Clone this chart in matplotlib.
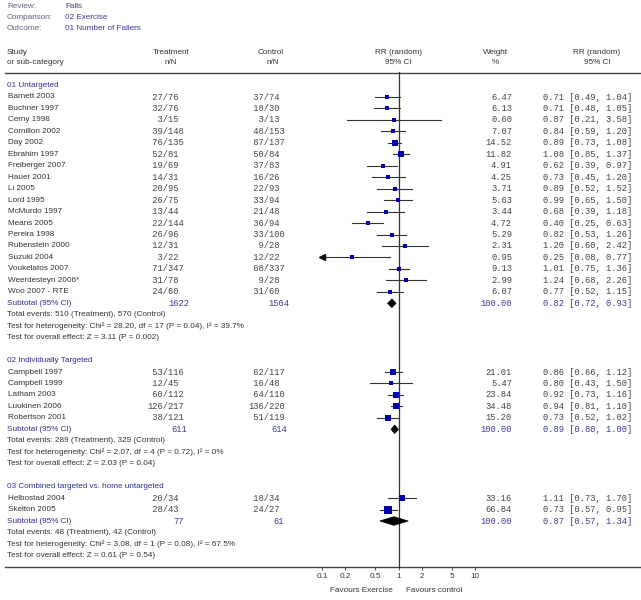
import matplotlib
matplotlib.use("Agg")
import matplotlib.pyplot as plt
from matplotlib.patches import Polygon

# ---------------- data ----------------
meta_labels = ["Review:", "Comparison:", "Outcome:"]
meta_values = ["Falls", "02 Exercise", "01 Number of Fallers"]

group_names = ["01 Untargeted", "02 Individually Targeted",
               "03 Combined targeted vs. home untargeted"]

g1_studies = ["Barnett 2003", "Buchner 1997", "Cerny 1998", "Cornillon 2002", "Day 2002",
              "Ebrahim 1997", "Freiberger 2007", "Hauer 2001", "Li 2005", "Lord 1995",
              "McMurdo 1997", "Means 2005", "Pereira 1998", "Rubenstein 2000", "Suzuki 2004",
              "Voukelatos 2007", "Weerdesteyn 2006*", "Woo 2007 - RTE"]
g1_t_ev = [27, 32, 3, 39, 76, 52, 19, 14, 20, 26, 13, 22, 26, 12, 3, 71, 31, 24]
g1_t_n = [76, 76, 15, 148, 135, 81, 69, 31, 95, 75, 44, 144, 96, 31, 22, 347, 78, 60]
g1_c_ev = [37, 18, 3, 48, 87, 50, 37, 16, 22, 33, 21, 36, 33, 9, 12, 68, 9, 31]
g1_c_n = [74, 30, 13, 153, 137, 84, 83, 26, 93, 94, 48, 94, 100, 28, 22, 337, 28, 60]
g1_weight = [6.47, 6.13, 0.60, 7.07, 14.52, 11.82, 4.91, 4.25, 3.71, 5.63, 3.44, 4.72,
             5.29, 2.31, 0.95, 9.13, 2.99, 6.07]
g1_rr = [0.71, 0.71, 0.87, 0.84, 0.89, 1.08, 0.62, 0.73, 0.89, 0.99, 0.68, 0.40, 0.82,
         1.20, 0.25, 1.01, 1.24, 0.77]
g1_lo = [0.49, 0.48, 0.21, 0.59, 0.73, 0.85, 0.39, 0.45, 0.52, 0.65, 0.39, 0.25, 0.53,
         0.60, 0.08, 0.75, 0.68, 0.52]
g1_hi = [1.04, 1.05, 3.58, 1.20, 1.08, 1.37, 0.97, 1.20, 1.52, 1.50, 1.18, 0.63, 1.26,
         2.42, 0.77, 1.36, 2.26, 1.15]

g2_studies = ["Campbell 1997", "Campbell 1999", "Latham 2003", "Luukinen 2006", "Robertson 2001"]
g2_t_ev = [53, 12, 60, 126, 38]
g2_t_n = [116, 45, 112, 217, 121]
g2_c_ev = [62, 16, 64, 136, 51]
g2_c_n = [117, 48, 110, 220, 119]
g2_weight = [21.01, 5.47, 23.84, 34.48, 15.20]
g2_rr = [0.86, 0.80, 0.92, 0.94, 0.73]
g2_lo = [0.66, 0.43, 0.73, 0.81, 0.52]
g2_hi = [1.12, 1.50, 1.16, 1.10, 1.02]

g3_studies = ["Helbostad 2004", "Skelton 2005"]
g3_t_ev = [20, 28]
g3_t_n = [34, 43]
g3_c_ev = [18, 24]
g3_c_n = [34, 27]
g3_weight = [33.16, 66.84]
g3_rr = [1.11, 0.73]
g3_lo = [0.73, 0.57]
g3_hi = [1.70, 0.95]

sub_t_total = [1622, 611, 77]
sub_c_total = [1504, 614, 61]
sub_rr = [0.82, 0.89, 0.87]
sub_lo = [0.72, 0.80, 0.57]
sub_hi = [0.93, 1.00, 1.34]

sub_stats = [
    ["Total events: 510 (Treatment), 570 (Control)",
     "Test for heterogeneity: Chi² = 28.20, df = 17 (P = 0.04), I² = 39.7%",
     "Test for overall effect: Z = 3.11 (P = 0.002)"],
    ["Total events: 289 (Treatment), 329 (Control)",
     "Test for heterogeneity: Chi² = 2.07, df = 4 (P = 0.72), I² = 0%",
     "Test for overall effect: Z = 2.03 (P = 0.04)"],
    ["Total events: 48 (Treatment), 42 (Control)",
     "Test for heterogeneity: Chi² = 3.08, df = 1 (P = 0.08), I² = 67.5%",
     "Test for overall effect: Z = 0.61 (P = 0.54)"],
]

tick_vals = [0.1, 0.2, 0.5, 1, 2, 5, 10]
tick_labels = ["0.1", "0.2", "0.5", "1", "2", "5", "10"]
favours = ["Favours Exercise", "Favours control"]

groups = [
    (g1_studies, g1_t_ev, g1_t_n, g1_c_ev, g1_c_n, g1_weight, g1_rr, g1_lo, g1_hi),
    (g2_studies, g2_t_ev, g2_t_n, g2_c_ev, g2_c_n, g2_weight, g2_rr, g2_lo, g2_hi),
    (g3_studies, g3_t_ev, g3_t_n, g3_c_ev, g3_c_n, g3_weight, g3_rr, g3_lo, g3_hi),
]

# ---------------- style ----------------
W, H = 641, 600
SANS = "Liberation Sans"
MONO = "Liberation Mono"
FS = 5.9
FM = 6.3
C_LABEL = "#5f5f80"
C_META = "#3a3a90"
C_GROUP = "#2f2f8f"
C_TEXT = "#333333"
C_NUM = "#444444"
C_SUB = "#3c3c96"
C_BOX = "#0000b0"
C_LINE = "#333333"

fig = plt.figure(figsize=(W / 100, H / 100), dpi=100)
fig.patch.set_facecolor("white")

ov = fig.add_axes([0, 0, 1, 1])
ov.set_xlim(0, W)
ov.set_ylim(H, 0)
ov.axis("off")

TOP_Y, BOT_Y = 72.5, 567
X_ONE_PX, PX_DEC = 398.5, 76.5
x_left_px = X_ONE_PX - PX_DEC
x_right_px = X_ONE_PX + PX_DEC
fx = fig.add_axes([x_left_px / W, (H - BOT_Y) / H, (x_right_px - x_left_px) / W,
                   (BOT_Y - TOP_Y) / H])
fx.set_xscale("log")
fx.set_xlim(0.1, 10)
fx.set_ylim(BOT_Y, TOP_Y)
fx.patch.set_alpha(0)
for s in fx.spines.values():
    s.set_visible(False)
fx.minorticks_off()
fx.set_xticks(tick_vals)
fx.set_xticklabels(tick_labels, fontsize=FS, family=SANS, color=C_TEXT)
fx.tick_params(axis="x", length=2, width=0.6, color=C_LINE, pad=2.5)
fx.minorticks_off()
fx.set_yticks([])


def t(x, y, s, **kw):
    kw.setdefault("fontsize", FS)
    kw.setdefault("family", SANS)
    kw.setdefault("va", "center")
    kw.setdefault("color", C_TEXT)
    ov.text(x, y, s, **kw)


def m(x, y, s, **kw):
    kw.setdefault("fontsize", FM)
    kw.setdefault("family", MONO)
    kw.setdefault("va", "center")
    kw.setdefault("color", C_NUM)
    ov.text(x, y, s, **kw)


# header meta
for i, (lab, val) in enumerate(zip(meta_labels, meta_values)):
    y = 6.5 + i * 11
    t(7, y, lab, color=C_LABEL)
    t(65, y, val, color=C_META)

# column headers
t(7, 52, "Study")
t(7, 62.5, "or sub-category")
t(171, 52, "Treatment", ha="center")
t(171, 62.5, "n/N", ha="center")
t(271, 52, "Control", ha="center")
t(273, 62.5, "n/N", ha="center")
t(398.5, 52, "RR (random)", ha="center")
t(398.5, 62.5, "95% CI", ha="center")
t(495, 52, "Weight", ha="center")
t(495, 62.5, "%", ha="center")
t(597, 52, "RR (random)", ha="center")
t(597, 62.5, "95% CI", ha="center")

ov.plot([5, W], [TOP_Y, TOP_Y], color="#444444", lw=1.0)
ov.plot([5, W], [BOT_Y, BOT_Y], color="#444444", lw=1.0)

fx.plot([1, 1], [TOP_Y, BOT_Y], color=C_LINE, lw=0.9, clip_on=False)

ROW0, DY = 97.0, 11.46


def rowy(n):
    return ROW0 + n * DY


group_start = [-1, 23, 34]
for gi, grp in enumerate(groups):
    studies, tev, tn, cev, cn, wt, rr, lo, hi = grp
    n0 = group_start[gi]
    t(7, rowy(n0), group_names[gi], color=C_GROUP)
    for k in range(len(studies)):
        y = rowy(n0 + 1 + k)
        t(8.5, y, studies[k])
        m(147, y, f"{tev[k]:>3}/{tn[k]}")
        m(248, y, f"{cev[k]:>3}/{cn[k]}")
        m(512, y, f"{wt[k]:.2f}", ha="right")
        m(543, y, f"{rr[k]:.2f} [{lo[k]:.2f}, {hi[k]:.2f}]")
        # CI line
        lo_c = max(lo[k], 0.1)
        hi_c = min(hi[k], 10)
        fx.plot([lo_c, hi_c], [y, y], color=C_LINE, lw=0.8, clip_on=False, zorder=2)
        if lo[k] < 0.1:
            fx.plot([0.1], [y], marker="<", ms=3.8, color="#111111", clip_on=False, zorder=3)
        side_px = 3.0 + 0.6 * wt[k] ** 0.5
        fx.plot([rr[k]], [y], marker="s", ms=side_px * 0.72, color=C_BOX,
                mec=C_BOX, mew=0, clip_on=False, zorder=4)
    ns = n0 + 1 + len(studies)
    y = rowy(ns)
    t(7, y, "Subtotal (95% CI)", color=C_GROUP)
    m(179, y, f"{sub_t_total[gi]}", ha="center", color=C_SUB)
    m(279, y, f"{sub_c_total[gi]}", ha="center", color=C_SUB)
    m(512, y, "100.00", ha="right", color=C_SUB)
    m(543, y, f"{sub_rr[gi]:.2f} [{sub_lo[gi]:.2f}, {sub_hi[gi]:.2f}]", color=C_SUB)
    h = 4.3
    dia = Polygon([(sub_lo[gi], y), (sub_rr[gi], y - h), (sub_hi[gi], y), (sub_rr[gi], y + h)],
                  closed=True, facecolor="black", edgecolor="black", lw=0.5,
                  clip_on=False, zorder=5)
    fx.add_patch(dia)
    for j, s in enumerate(sub_stats[gi]):
        t(7, rowy(ns + 1 + j), s)

# favours labels
t(361, 590.5, favours[0], ha="center")
t(434.5, 590.5, favours[1], ha="center")

fig.savefig("out.png", dpi=100, facecolor="white")
